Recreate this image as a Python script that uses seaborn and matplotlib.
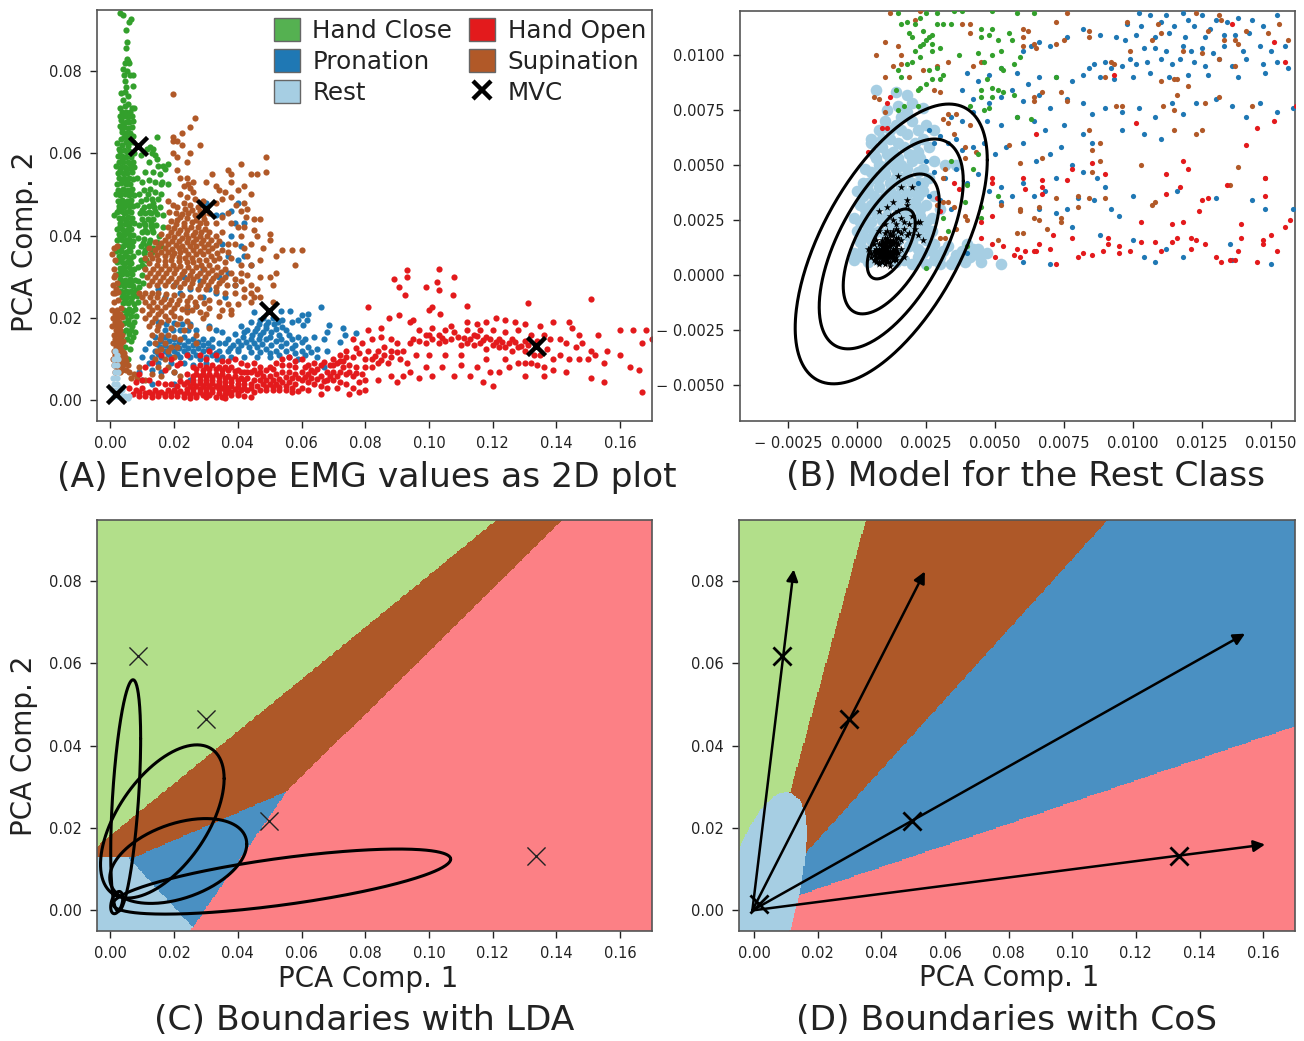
import numpy as np
import seaborn as sns
import matplotlib
matplotlib.use('Agg')
import matplotlib.pyplot as plt
from matplotlib.colors import ListedColormap
from matplotlib.lines import Line2D
from matplotlib.patches import Patch

W, H = 1304, 1041

# panel A points, (x, y) in thousandths
a_close = [(3,94),(4,93.5),(6.6,92.6),(5.8,91.8),(5,90),(5.3,87),(5,85.5),(5.2,83),(4.5,82),(5.6,82.5),(4.1,80.5),(5.2,80),(6,82),(4.3,79),(4.6,77.5),(6.3,79),(7.2,79),(5,76),(4.6,75),(3.4,74.7),(3.9,73),(7,76.3),(5.6,74),
(3,71),(4.5,71.5),(5.6,72),(6.8,71),(3.5,70),(5,70),(6.3,70),(7.5,71),(2.9,69),(4.2,69),(5.5,68.8),(6.8,69),(3.4,68),(4.8,67.7),(6,67.5),(7.2,67.9),(3.1,66.6),(4.4,66.4),(5.5,66.2),(6.8,66.3),(3.7,65.2),(5,65),(6.2,65),(4.2,64),(5.6,63.8),(7,64.2),(3.2,63.4),(4.8,62.8),(6.3,62.7),(3.7,62),(5.4,61.7),(2,62.5),
(3,60.5),(4.4,60.8),(6,60.5),(7.4,60),(2.3,59.3),(3.6,59.4),(5,59.2),(6.6,59),(2.6,58),(4.1,57.9),(5.6,57.8),(7,57.9),(1.8,56.8),(3.2,56.6),(4.6,56.7),(6.1,56.5),(7.3,56.7),(2.4,55.3),(3.9,55.2),(5.3,55.1),(6.7,55.4),(2.8,54),(4.4,53.9),(5.8,54),(7.1,53.8),(2,52.6),(3.4,52.7),(4.9,52.6),(6.3,52.5),(2.5,51.2),(4,51.3),(5.5,51),(6.9,51.4),(1.7,50),(3.1,49.9),(4.6,50),(6,49.8),(7.4,49.9),(2.3,48.5),(3.8,48.6),(5.2,48.4),(6.6,48.6),(2.8,47.2),(4.3,47),(5.8,47.1),(7.2,47.3),(2,45.8),(3.4,45.9),(4.9,45.7),(6.4,45.8),(1,45),(2.6,44.4),(4.1,44.3),(5.5,44.5),(6.9,44.2),(3,43),(4.5,42.9),(6,43),(7.4,43),(2.2,41.7),(3.7,41.6),(5.1,41.5),(6.6,41.7),(2.7,40.3),(4.2,40.2),(5.7,40.4),(7.2,40.2),(2,39),(3.5,38.9),(4.9,39),(6.3,38.8),(2.5,37.6),(4,37.5),(5.4,37.7),(6.9,37.5),(1.9,36.2),(3.3,36.3),(4.8,36.1),(6.2,36.2),(2.6,35),(4.1,34.8),(5.6,34.9),(7,35),(2.2,33.6),(3.6,33.5),(5.1,33.6),(6.6,33.4),(2.9,32.2),(4.4,32.1),(5.8,32.3),(7.4,32),(2.4,30.8),(3.8,30.8),(5.3,30.6),(6.8,30.8),(3.1,29.4),(4.6,29.3),(6.1,29.4),(7.6,29.2),(2.8,28),(4.2,27.9),(5.7,28),(7.2,27.8),(3.3,26.6),(4.9,26.5),(6.4,26.6),(8,26.8),(3.6,25.2),(5.2,25),(6.8,25.2),(8.4,25.4),(4,23.6),(5.6,23.7),(7.3,23.5),(8.8,24),(4.3,22),(6,22.2),(7.6,22.1),(4.7,20.5),(6.4,20.4),(8,20.6),(4.2,18.8),(6,18.6),(7.5,19),(5,17),(6.6,17.2),(3.4,15.5),(5.3,15),(7,15.3),(4.5,13),(6.1,12.5),(3.5,12),(5.5,10),(6.5,14.5),
(14.5,64),(12.4,61.5),(13.4,61),(11.5,61),(13.2,60),(14,59.5),(9.7,59.5),(14.5,58.5),(12,58),(15,57),(18,57.5),(16.5,57),(17.3,56.3),(11,55.5),(13.5,55.5),(15.5,55),(16.2,53),(15.8,52.5),(18,52.5),(14,53),(12,53.5),(10,53),(8.5,54),
(9,50),(10.7,51),(12.3,51.3),(14,50.7),(15.8,50),(9.6,48.5),(11.2,49),(13,49),(14.8,48.8),(8.4,47.5),(10.4,47),(12,47.2),(13.7,47),(15.5,47),(9.2,45.5),(11,45.5),(12.8,45.6),(14.5,45.2),(16.5,45),(10,44),(11.7,44),(13.5,44),(9,42.5),(10.8,42.5),(12.6,42.3),(14.3,42.5),(16.4,42),(9.8,41),(11.6,40.8),(13.4,40.8),(15.4,40),(8.8,39.5),(10.6,39.2),(12.5,39),(14.5,38.5),(9.6,37.5),(11.4,37.5),(13.4,37),(16,37.5),(8.7,36),(10.5,35.8),(12.4,35.5),(9.5,34),(11.2,34),(8.8,32.5),(10.5,32.3),(9.8,30.5),(8.6,29),(10.2,28.5),(9,27.5)]
a_close_more = [(3.7,58.4),(5.3,60.2),(2.9,55.9),(4.8,55.8),(6.2,57.3),(3.6,53.6),(5.2,53.2),(2.9,50.6),(4.9,50.8),(6.4,50.3),(3.2,48),(4.6,47.6),(6.2,47.9),(2.6,46.5),(4.2,45.4),(5.8,46),(3.4,44),(4.9,43.6),(6.5,43.3),(3,42.3),(4.4,41),(5.9,42),(3.1,39.8),(4.6,38.4),(5.9,39.3),(7,38.8),(3.3,37.1),(4.7,35.3),(5.9,36.5),(3,34.7),(4.4,33.2),(6.1,34.3),(3.3,31.5),(4.9,31.3),(6.4,31.7),(3.6,28.8),(5.2,28.6),(6.6,28.5),(3.9,25.9),(5.6,26.3),(7.2,26.1),(4.7,24.3),(6.4,24.1),(5.2,21.3),(6.9,21.6),(5.5,19.5),(6.9,18),(4.1,16.6),(5.9,16.1),(7.6,16.7),(11.8,50),(13.3,48),(10,46.2),(12.1,45.7),(14,46),(10.6,43),(12.9,43.2),(11,41.5),(13.2,41.7),(10.2,38.3),(12,38.2),(11,36.5),(13,36),(10,33),(3.5,66),(5.8,69.5),(4,67.2),(6.5,64),(2.6,61),(7.2,62.8)]

a_brown = [(19.5,74.5),(26.5,68.5),(25,66.5),(22.5,65),(28,62),(19.5,64),(19.8,63),(20.8,63),(22.5,62),(19.5,60),(21,59),(25,60),(24,58),(21,56),(49,59),(49,55.5),(41,57.5),(44,55),(46,55),(38,55),(37,56),(32,55),(22,54),(24,54),(26,53),
(23,52),(25,51.5),(30,53),(33,52),(38,53),(42,52),(34,51),(36,50.5),(40,51),(44,50),(22,50),(24,49.5),(26.5,49),(29,48.5),(23,48),(25,47.5),(27.5,47),(33,48),(35,49),(38,49.5),(39.5,47.5),(42,48),(18,48.5),(19.5,47.5),(21,47),(37,45.5),(41,46),(43,46.5),(18.5,45.8),(20.5,45.5),(22.5,45.3),(24.5,45.5),(26.5,45),(29,45),(31,45.5),(35,44.5),(42.5,44.5),(45,44),(47,44),(19,43.5),(21,43.8),(23,43.2),(25.5,43.3),(28,43),(30,43),(33,43),(38,43),(40,42),(42,42),(45,41.5),(50,40.5),(18,42),(20,41.8),(22,41.5),(24,41.5),(26.5,41),(28.5,41),(31,41),(35,41),(41,40),(46,40),(50,39),(54,36.5),(57,36.5),(52,35),(60,36.5),(58,33),
(16,40.5),(18,40),(20,39.8),(22.5,39.5),(24.5,39.5),(27,39.3),(29,39),(31.5,39),(34,38.8),(37,38),(39,38),(42,37),(44,38),(48,37),(14,38.5),(16,38.3),(18,38),(20.5,37.8),(22.5,37.5),(25,37.5),(27,37.5),(29.5,37.2),(32,37),(35,36.5),(37,36),(43,35),(47,34),(52,31),(12,37),(14,36.5),(16,36),(18,36),(20,35.8),(22,36),(24.5,35.5),(27,35.5),(29,35.5),(31.5,35),(34,34.5),(38,34.5),(41,33),(44,33),(50,30),(51,28),
(11,34.5),(13,34.5),(15,34),(17,33.8),(19,34),(21.5,33.8),(24,33.5),(26,33.5),(28.5,33),(31,33),(33.5,32.5),(36,32),(38,31),(41,31),(43,30.5),(47,30),(11,32),(13.5,32),(16,32),(18.5,32),(20.5,32),(23,31.5),(25.5,31.5),(28,31),(30.5,31),(33,30.5),(36,30),(39,29.5),(41,29),(44,28),(46,27),(11.5,30),(14,30),(16.5,30),(19,29.8),(21.5,29.8),(24,29.5),(26,29.5),(29,29),(31.5,29),(34,28.5),(36.5,28),(39,28),(42,27),(44,26),(45,25),(47,25),(12,28),(14.5,28),(17,28),(19.5,27.8),(22,27.5),(25,27.5),(27.5,27),(30,27),(33,26.5),(36,26),(39,26),(42,25),(44,24),(51,24),
(9,26),(11,26),(13,26),(15,26),(17.5,25.8),(20,25.5),(22.5,25.5),(25,25),(28,25),(31,24.5),(34,24),(37,23.5),(40,23.5),(11,24),(13.5,24),(16,23.8),(18.5,23.5),(21,23.3),(24,23),(27,23),(31,22.5),(35,22),(38,22),(10,22),(13,22),(16,21.7),(19,21.5),(24,21.5),(30,21),(34,20.5),(38,21),(11,20),(14,20),(18,19.5),(24,19.3),(29,20),(12,18),(15,18),(19,17.5),(25,18),(31,17.5),(13,16),(16,16),(20,15.5),(27,16),(14,14),(17,14),(21,13),(27,14),(14.5,12),(18,12),(14,10),(17,10),(20,10.5),(15,8),(18,8),(20,7),(22,6),(13,6.5),(16,6),(11,5),
(1,37),(2,37.5),(0.5,35.5),(1.5,34),(1.2,32),(1,30),(0.7,28),(1.5,26),(1,24),(2.5,24.5),(0.6,22),(2,22),(3.3,22.5),(0.8,20),(2.2,20),(3.5,20.3),(0.5,18),(2,18),(3.2,18.3),(1,16),(2.5,16.2),(3.8,16),(0.7,14),(2,14),(3.4,14),(1,12),(2.4,12),(3.8,12),(0.8,10),(2,10),(3.2,10),(4.5,10.5),(1.2,8.5),(2.7,8.5),(4,8.5),(5.5,8.5),(1.5,7),(3,7),(6,7),(7.5,6.5),(6.5,5.5),(8.5,5.5),(9,8)]
a_brown_more = [(24.3,52.6),(26,50.5),(23.3,46.5),(25.7,46.2),(28.2,46),(21.7,44.6),(24,44.3),(26.8,43.9),(29.5,44),(20.5,42.8),(23,42.3),(25.3,42),(27.5,42.2),(29.8,41.7),(19,40.8),(21.3,40.6),(23.6,40.5),(26,40.2),(28,40),(30.3,40),(33,40),(17,39),(19.3,38.8),(21.6,38.7),(24,38.5),(26,38.4),(28.4,38.2),(30.5,38),(33,37.8),(15,37.3),(17.3,37),(19.4,36.8),(21.5,36.9),(23.5,36.6),(26,36.5),(28.2,36.4),(30.5,36.2),(33.5,35.8),(12.5,35.5),(14.7,35.2),(17,35),(19.3,35),(21.5,34.8),(23.3,34.6),(25.5,34.5),(27.7,34.2),(30,34),(32.5,34),(36,33.5),(12,33.3),(14.5,33),(17,32.9),(19.5,33),(22,32.7),(24.5,32.5),(27,32.3),(29.5,32),(32,31.7),(34.7,31.3),(12.5,31),(15,31),(17.5,30.9),(20,30.9),(22.5,30.6),(25,30.5),(27.3,30.2),(29.8,30),(32.3,29.8),(35,29.2),(13,29),(15.5,29),(18,28.9),(20.5,28.7),(23,28.5),(25.5,28.4),(28,28),(30.5,28),(33,27.5),(10,25),(12.3,25),(14.5,25),(16.8,24.7),(19,24.5),(21.5,24.5),(24,24.2),(26.5,24),(29.5,23.7),(12,23),(14.7,22.8),(17.3,22.6),(20,22.5),(22.5,22.3),(25.5,22),(28,21.5),(12,21),(15,21),(17,20.5),(20,20.5),(22,20),(13,19),(16,19),(21,18.5),(23,17),(14.5,17),(18,16),(22,15),(15.5,15),(19,13),(16,12.5),(1.6,30.5),(2,28.5),(1.8,27),(0.9,26),(2.4,26.3),(3,21),(1.4,21),(1.4,19),(2.7,19),(1.7,17),(3.1,17),(1.5,15),(2.8,15),(1.7,13),(3,13),(4,14.5),(1.5,11),(3,11),(4.3,11.5),(2,9.2),(3.5,9.3),(5,9.5),(2.2,7.8),(3.8,7.5),(5,7.5)]

a_pron = [(66,22.8),(62,21),(60,20.8),(56.5,21.6),(53.6,21.6),(59,19.6),(61.7,19.6),(60.5,18.3),(57,19),(68.5,18.3),(73,17.5),(68,16.7),(77,16.3),(73.5,16),(64,15.5),(67,15),(72,14.3),(45,21.5),(48,20),(51,20),(54,19.5),(44,19),(46.5,18.5),(49,18.3),(51.5,18.5),(54,17.8),(41,18),(43,17),(45.5,16.8),(48,16.5),(50.5,16.7),(53,16),(56,16),(59,15.5),(61,15),(39,16.2),(41.5,15.5),(44,15),(46.5,15),(49,14.8),(52,14.5),(55,14),(58,13.5),(62,13),(65,12.5),(68,12),(36,14),(38.5,13.5),(41,13.5),(43.5,13),(46,13),(49,12.5),(52,12),(55,12),(58,11.5),(61,11),(65,10.5),(67,8),
(15,19),(17.5,18.5),(20,18.8),(22.5,18.5),(25,18.5),(17,17),(19.5,17),(22,17),(24.5,17),(27,17),(31,18),(33,17),(35,16.5),(37,15),(14,15.5),(17,15.5),(20,15),(23,15.3),(26,15),(29,15),(32,15),(34,14),(12,14),(14.5,13.7),(17,13.5),(20,13.5),(23,13.5),(26,13.5),(29,13.5),(32,13),(34,12),(37,12),(40,12),(11,12.5),(14,12),(17,12),(20,12),(23,12),(26,12),(29,12),(32,11),(35,10.5),(38,10.5),(42,10.5),(46,10.5),(50,10.5),(10,10.5),(13,10.5),(16,10.5),(19,10.5),(22,10.5),(25,10.5),(28,10),(12,9),(15,9),(19,9),(23,9),(26,8.5),(30,9),(13,7.5),(16,7),(20,7),(9,7),(10,5),(13,4),(20,4),(25,5),
(24,22),(27,23),(29,25),(31,27),(28,29),(33,26),(36,25),(34,30),(37,31),(39,28),(37,35),(40,34),(35,38),(38,40),(39,43),(41,37.5),(42,35),(35,45),(33,45),(44,33),(30,48),(23,30),(25,27),(20,28),(17,25),(22,26),(15,27),(29,32),(38,46),(40,48),(42,43)]
a_pron_more = [(47,19.5),(49.5,19),(52.5,19),(46,17.5),(49,17.5),(52,17.3),(55,17),(42,16.5),(44.5,16),(47,15.8),(50,15.5),(53.5,15),(57,14.8),(60,14.2),(40,14.5),(42.5,14.2),(45,14),(47.5,13.8),(50.5,13.5),(53.5,13.2),(57,12.7),(60,12),(63,11.8),(37.5,12.8),(40,12.6),(44,11.8),(47,11.7),(50,11.5),(53,11),(56,10.5),(59,10),(16,14.5),(18.5,14.4),(21.5,14.2),(24.5,14.4),(27.5,14.2),(30.5,14),(15.5,12.9),(18.5,12.7),(21.5,12.8),(24.5,12.8),(27.5,12.7),(30.5,12.5),(33,11.5),(15,11.2),(18,11.2),(21,11.3),(24,11.3),(27,11),(30,10.5),(33.5,10)]

a_open = [(89,29.4),(93,31.7),(93,30),(90.7,27.6),(92.6,25.6),(99,27.6),(102.6,28.7),(103,32),(103,26.7),(108,30),(107.5,25.5),(112,23),(131,23.6),(151,24.7),(81,22.6),(101,22.8),(100,22),(103.5,21),(90.7,20.8),(87.6,20),(95,19.6),(94,19),(81,17),(85,17.5),(112,19),(115,18.5),(118,19),(121,20),(124,19.5),(127,19),(130,18.5),(135,18),(139,19),(145,17.5),(144,19),(153,16),(147,16),(160,17),(167,14),(164,17),(168,17),(170,15),
(97,17),(99,16),(101,17.5),(103,16),(105,17),(107,18),(109,15.5),(112,17),(114,16),(116,17),(118,15.5),(120,17),(122,15),(124,16.5),(126,15),(128,17),(130,14.5),(132,16),(134,14.5),(136,16),(138,15),(141,15),(143,14),(146,13),(148,14),(151,12),(156,12),(160,11),
(95,15),(97,14.5),(99,14),(101,15),(103,14),(105,14.5),(107,15),(110,13.5),(112,14),(114,13.5),(116,14),(118,12.5),(120,13.5),(122,13),(124,13),(126,12),(128,13),(130,12),(133,11),(135,11),(137,12.5),(139,10),(141,11),(144,10),(147,10),(150,10),(152,11),(155,9),(163,8),(166,7.5),(167,2),(139,7.5),(136,8),(132,9),(128,9),(125,8),(122,7),(119,7),(115,8),(113,6),(110,8.5),(108,6),(104,8),(101,6),(99,8),(97,5.5),(94,7),(92,6),(90,4.5),(88,6),(96,11),(100,11),(105,11),(110,11),(118,10),(124,10),(130,9),(143,7),(151,5.5),(155,4.5),(134,8.5),(130,6),(136,6),(117,4.5),(120,3.5),
(82,10),(84,12),(86,13),(88,15),(90,14),(92,12),(94,14),(79,14),(76,15),(82,15),(85,15.5),(88,12),(91,10),(93,9),(87,9),(84,9),(80,8),
(70,10),(72,11),(74,12),(76,10.5),(78,11.5),(80,10),(82,8),(69,8.5),(71,9),(73,9.5),(75,8.5),(77,8),(79,6.5),(62,8.5),(64,9),(66,8.5),(68,7),(70,7),(72,7),(74,6.5),(76,6),(78,4.5),(80,5),(60,7),(62,6.5),(64,7),(66,6),(68,5),(70,5),(72,4.5),(74,4),(76,3),(78,2),(62,4.5),(64,4),(66,3.5),(68,3),(71,3),(75,1.5),(84,5),(80,2.5),
(50,8),(52,9),(54,10),(56,10.5),(58,9.5),(60,10),(48,6),(50,6),(52,6.5),(54,7),(56,7),(58,6.5),(60,5),(48,4),(50,4),(52,4),(54,4.5),(56,4.5),(58,4),(60,3),(62,2.5),(47,2.5),(49,2.5),(51,2.5),(53,2.5),(55,2.5),(57,2),(66,1.5),
(28,11),(30,10),(31,12),(33,11),(35,9.5),(37,9.5),(39,10),(41,9),(43,8.5),(45,9),(47,8),(28,8.5),(30,8),(32,8.5),(34,8),(36,8),(38,8),(40,7.5),(42,7),(44,7),(46,6.5),(27,6.5),(29,6.5),(31,6.5),(33,6.5),(35,6.5),(37,6),(39,6),(41,5.5),(43,5.5),(45,5),(26,5),(28,5),(30,5),(32,5),(34,4.8),(36,4.5),(38,4.5),(40,4),(42,4),(44,4),(46,3.5),(25,3.5),(27,3.5),(29,3.5),(31,3.5),(33,3.5),(35,3),(37,3),(39,2.8),(41,2.5),(43,2.5),(45,2),(24,2),(26,2),(28,2),(30,2),(32,2),(34,1.8),(36,1.5),(38,1.3),(40,1.2),(42,1),(44,0.8),(33,0.8),(30,0.8),(36,0.5),
(6,3),(8,2.5),(10,3),(12,2),(14,2.5),(16,2),(18,2.5),(20,2.5),(22,2.2),(7,1.5),(9,1),(11,1),(13,0.8),(15,1),(17,1),(19,1),(21,1),(23,0.8),(25,0.7),(27,0.8),(8,4.5),(10,5),(12,5),(15,4.2),(17,4),(19,4),(21,3.5),(23,4),(9,6.5),(11,8),(13,9),(17,7.5),(21,8.5),(24,6.5),(22,9),(19,10),(24,11),(16,11)]
a_open_more = [(100,15.8),(104,15.2),(108,16.5),(111,15.2),(113,15),(115,15.6),(117,14.7),(119,14.8),(121,14.2),(123,14.3),(125,14),(127,14.3),(129,13.3),(131,13.4),(86,11),(88,10.5),(90,11.8),(83,10.7),(85,9.8),(81,12),(77,12.7),(74,10.5),(72,9.5),(70,8.7),(67,9.4),(65,7.7),(63,7.5),(61,8),(58,8),(56,8.7),(54,8.5),(73,8),(75,7),(77,6.7),(71,6),(69,6),(67,4.6),(65,5.3),(63,5.5),(61,5.7),(59,5.5),(57,5.5),(55,5.7),(53,5.3),(51,5),(49,5),(47,5),(47,7),(49,7.3),(51,7.7),(45,7.5),(43,7),(41,7),(39,7.2),(37,7.3),(35,7.5),(33,7.7),(31,7.6),(29,7.4),(27,7.6),(26,8),(42,5),(40,5),(38,5.3),(36,5.5),(34,5.6),(32,5.8),(30,5.8),(28,5.9),(26,6),(44,3),(42,3.1),(40,3.2),(38,3.4),(36,3.6),(34,4),(32,4.2),(30,4.3),(28,4.2),(26,4.3),(24,4.5),(22,4.7),(24,2.8),(26,2.8),(28,2.8),(30,2.8),(32,2.8),(34,2.7),(36,2.5),(38,2.1),(40,1.9),(35,0.9),(37,2),(31,1.4),(29,1.3),(27,1.4),(25,1.4),(23,1.5),(21,1.7),(19,1.7),(17,1.6),(15,1.7),(13,1.5),(11,1.8),(9,2),(49,3.3),(51,3.3),(53,3.3),(55,3.5),(57,3),(59,2.2)]

a_rest = [(1.5,12),(2,11),(1,10),(2.5,10),(1,8.5),(2,8.5),(1.5,7),(2.5,7),(0.8,5.5),(2,5.5),(1,4),(2.2,4),(3,3),(0.6,2.5),(1.8,2.5),(3,1.5),(4.5,1),(5.5,0.5),(1,1),(2.2,1),(3.8,2.5),(6,1)]

mvc_x = [0.0017, 0.0088, 0.0300, 0.0498, 0.1335]
mvc_y = [0.0015, 0.0617, 0.0465, 0.0218, 0.0133]

# panel B points, (x, y) in 1e-4
b_pron = [(102,119),(106,118),(112,118),(118,119),(125,118),(130,116),(120,116),(110,115),(103,113),(98,114),(115,113),(122,113),(128,112),(134,115),(138,117),(143,116),(147,113),(152,118),(142,110),(137,109),(133,109),(126,108),(119,108),(113,110),(108,108),(101,109),(97,107),(94,108),(88,109),(82,112),(76,108),(70,104),(66,106),(63,104),(60,102),
(104,103),(108,103),(112,102),(118,104),(121,102),(125,103),(129,101),(133,104),(140,102),(146,104),(150,102),(155,104),(99,98),(101,96),(96,95),(92,94),(90,97),(86,96),(84,94),(105,97),(110,98),(114,96),(117,98),(122,97),(126,95),(131,98),(136,95),(141,98),(147,96),(152,97),(156,94),(148,92),(138,90),(127,91),(120,91),(113,90),(106,92),(100,90),(93,89),(88,90),(82,91),(78,88),(72,90),(66,90),(62,87),(58,92),(52,94),(48,91),(44,88),(40,92),
(38,84),(42,80),(48,78),(52,81),(56,84),(60,79),(66,82),(70,76),(76,80),(82,78),(85,73),(90,76),(96,74),(102,76),(108,72),(114,78),(118,73),(123,78),(130,80),(136,77),(141,72),(146,78),(152,74),(158,76),(34,72),(38,70),(42,74),(47,70),(52,68),(58,72),(64,70),(68,66),(75,68),(82,64),(85,60),(96,66),(104,64),(110,62),
(26,66),(30,63),(33,60),(28,60),(36,62),(38,57),(42,58),(46,60),(50,55),(54,58),(60,60),(65,52),(70,55),(74,58),(78,50),(82,47),(87,44),(90,40),
(25,52),(28,47),(32,44),(36,48),(40,42),(44,46),(48,38),(52,40),(56,36),(60,42),(64,36),(68,38),(72,44),(80,35),(86,34),(92,30),(95,27),(100,36),(116,38),(130,35),(143,34),(148,30),(158,30),
(22,42),(26,36),(30,34),(34,30),(52,33),(66,30),(72,28),(76,30),(78,22),(88,18),(100,16),(112,12),(118,8),(135,14),(136,7),(150,5),(60,6),(40,10),(70,5),(108,6),(104,8)]

b_open = [(136,114),(151,106),(155,97),(93,91),(101,69),(159,77),(145,67),(151,70),(141,59),(65,64),(118,52),(120,48),(112,46),(90,46),(85,51),(78,48),(76,43),(67,43),(67,40),(67,37),(60,44),(61,39),(49,44),(49,42),(117,40),(112,37),(125,34),(127,35),(124,29),(134,41),(148,44),(148,36),(157,25),(155,22),(103,24),(114,23),(118,24),(139,23),(139,17),(150,18),(147,16),(147,14),(152,11),(116,17),(121,17),(123,16),(126,14),(121,12),(114,15),(108,15),(103,15),(95,13),(91,17),(91,14),(89,11),(99,11),(95,10),(110,11),(130,8),(132,6),(135,7),(137,7),(145,6),(138,11),(85,9),(82,10),(80,8),(72,5),(71,18),(78,17),(70,12),(65,11),(64,11),(66,14),(61,11),(58,12),(57,9),(59,8),(53,13),(50,8),(49,27),(45,24),(49,14),(45,17),(4,56),(6,70),(9,67),(11,67),(12,81),(11,78),(37,39),(35,42),(29,35),(30,29)]

b_brown = [(12,119),(23,120),(76,119),(98,115),(109,114),(123,119),(131,118),(132,116),(153,114),(149,110),(141,111),(127,111),(110,110),(84,111),(72,115),(60,112),(62,111),(41,114),(38,114),(41,110),(84,108),(75,107),(72,105),(60,108),(64,105),(65,103),(60,104),(99,102),(107,107),(118,102),(125,101),(131,98),(133,107),(137,107),(138,105),(137,95),(156,107),(92,97),(93,96),(33,97),(42,95),(45,97),(90,90),(115,89),(116,89),(110,88),(120,86),(116,82),(126,78),(131,81),(143,77),(111,77),(115,75),(96,77),(94,77),(76,79),(74,83),(64,81),(64,79),(67,83),(115,66),(123,64),(125,66),(84,66),(88,60),(85,57),(88,52),(103,50),(138,49),(85,47),(59,51),(67,53),(55,59),(148,44),(135,41),(108,33),(107,32),(90,35),(84,35),(80,36),(80,31),(72,35),(74,26),(74,24),(66,31),(59,29),(59,30),(52,32),(58,19),(60,19),(66,25),(69,21),(64,26),(51,16),(10,106),(7,100),(15,104),(16,100),(16,96),(13,95),(21,116),(24,93),(29,95),(19,90),(10,90),(6,81),(8,80),(28,84),(30,83),(10,74),(33,73),(36,73),(33,69),(41,68),(35,64),(31,71),(39,58),(43,56),(39,53),(32,48),(31,44),(33,33),(35,31),(39,27),(40,25),(36,21),(30,17),(32,17),(31,33),(29,32)]

b_close = [(15,119),(23,117),(25,119),(29,119),(35,120),(38,120),(49,120),(58,119),(64,119),(18,115),(21,114),(31,114),(34,114),(29,114),(16,114),(19,110),(24,111),(25,107),(27,105),(24,105),(26,108),(27,109),(20,108),(23,104),(21,102),(27,102),(30,103),(37,100),(23,99),(20,97),(18,96),(29,94),(26,93),(30,89),(31,91),(27,89),(25,87),(23,85),(22,84),(15,93),(16,90),(14,84),(45,108),(48,109),(49,112),(45,112),(51,107),(56,107),(55,110),(44,101),(49,100),(52,102),(46,97),(52,94),(53,93),(47,89),(49,85),(45,84),(45,81),(49,81),(51,84),(53,83),(57,82),(58,72),(63,71),(46,75),(48,76),(41,77),(59,99),(57,96),(72,90),(17,77),(22,77),(15,75),(34,52),(42,48),(44,55),(40,41),(39,33),(45,31),(45,26),(33,20),(31,26),(51,36),(25,3),(40,13)]

b_rest = [(-1,10),(2,8),(5,10),(8,7),(2,12),(6,13),(11,9),(14,6),(16,10),(19,13),(22,8),(25,5),(27,11),(30,8),(33,13),(36,9),(39,6),(42,12),(44,9),(47,10),(45,6),(52,5),(34,5),(40,14),(12,12),(-1,7),(4,6),(9,11),(13,7),(17,7),(20,5),(24,10),(28,7),(31,11),(35,7),(38,11),(41,8),(44,12),(30,5),(22,12),(27,14),
(7,84),(18,82),(14,83),(20,78),(16,72),(24,76),(10,70),(14,68),(20,70),(25,68),(28,66),(8,66),(5,62),(12,62),(18,64),(24,62),(5,60),(6,55),(9,58),(13,56),(17,58),(22,56),(26,58),(3,48),(8,50),(12,52),(16,50),(20,52),(24,48),(28,52),(32,50),(36,50),(2,42),(6,44),(10,46),(14,44),(18,44),(22,42),(26,44),(0,38),(4,38),(8,40),(12,38),(16,40),(20,38),(24,38),(28,36),(1,32),(5,32),(9,34),(13,33),(17,35),(21,33),(25,32),(-1,26),(3,27),(7,28),(11,27),(15,28),(19,28),(23,27),(27,26),(30,30),(0,20),(4,22),(8,20),(12,22),(16,22),(20,20),(24,22),(27,20),(1,15),(5,16),(10,15),(15,16),(20,15),(25,16),(28,14),(11,75),
(15,77),(18,74),(12,66),(16,66),(22,66),(9,62),(15,60),(21,60),(7,53),(11,55),(15,53),(19,55),(23,53),(5,47),(10,49),(14,48),(18,48),(22,47),(4,42),(8,44),(12,42),(16,44),(20,42),(24,42),(2,36),(6,36),(10,36),(14,36),(18,37),(22,36),(3,30),(7,31),(11,31),(15,31),(19,31),(23,30),(1,24),(5,24),(9,25),(13,24),(17,25),(21,24),(25,24),(2,18),(6,19),(10,18),(14,19),(18,18),(22,18),(26,18)]

b_star = [(15,45),(20,40),(16,40),(13,33),(18,34),(11,31),(8,29),(18,32),(12,27),(16,26),(20,27),(22,24),(23,24),(10,23),(14,23),(19,23),(21,21),(22,18),(24,16),(8,20),(11,20),(15,20),(18,18),(16,16),(7,16),(4,12),
(6,14),(7,12),(8,14),(9,16),(10,17),(11,15),(12,16),(13,18),(14,17),(9,13),(10,14),(11,12),(12,13),(13,14),(14,13),(15,14),(16,12),(5,10),(6,9),(7,10),(8,9),(9,10),(10,10),(11,9),(12,10),(13,10),(14,10),(15,10),(6,7),(7,7),(8,6),(9,7),(10,7),(11,7),(12,6),(13,7),(14,7),(8,5),(10,5),(12,4),(9,12),(11,11),(13,12),(10,19),(12,18),(17,8),
(7,11),(8,11),(9,11),(10,11),(10,12),(11,13),(12,14),(12,15),(13,15),(13,16),(11,16),(10,15),(9,14),(8,12),(8,10),(9,9),(10,9),(11,10),(12,11),(13,11),(14,12),(14,15),(14,11),(7,8),(8,8),(9,8),(10,8),(11,8),(12,8),(13,8),(14,8),(12,9),(13,9),(6,11),(5,8),(7,6),(9,6),(11,6),(10,13),(9,15),(11,17),(12,19),(13,20),(14,21),(15,17),(16,19),(17,21),(17,24),(13,25),(15,29),(19,19)]

# gaussian outlines: mean x, mean y, sd x, sd y, correlation
rest_model = [0.00124, 0.00141, 0.00087, 0.00159, 0.60]
rest_rings = [1, 2, 3, 4]
lda_ellipses = [
    [0.0048, 0.0279, 0.0047, 0.0281, 0.49],
    [0.0163, 0.0216, 0.0194, 0.0186, 0.56],
    [0.0213, 0.0120, 0.0215, 0.0103, 0.40],
    [0.0538, 0.0070, 0.0530, 0.0079, 0.69],
    [0.0020, 0.0019, 0.0019, 0.0027, 0.40],
]

# arrow tips in panel D
arrow_x = [0.0125, 0.0537, 0.1543, 0.1606]
arrow_y = [0.0828, 0.0823, 0.0672, 0.0160]

# boundary of the rest region in panel D
rest_y = [-0.0051, -0.0005, 0.0027, 0.0068, 0.0124, 0.0189, 0.0238, 0.0269, 0.0289]
rest_right = [0.0113, 0.0129, 0.0138, 0.0151, 0.0160, 0.0167, 0.0160, 0.0145, 0.0107]
rest_left_y = [-0.0060, 0.0155, 0.0204, 0.0252, 0.0282, 0.0289]
rest_left = [-0.0100, -0.0044, -0.0013, 0.0028, 0.0072, 0.0107]

xticks_a = [0, 0.02, 0.04, 0.06, 0.08, 0.10, 0.12, 0.14, 0.16]
yticks_a = [0, 0.02, 0.04, 0.06, 0.08]
xticks_b = [-0.0025, 0, 0.0025, 0.005, 0.0075, 0.01, 0.0125, 0.015]
yticks_b = [-0.005, -0.0025, 0, 0.0025, 0.005, 0.0075, 0.01]

# point colours
c_close, c_pron, c_rest, c_open, c_brown = '#33a02c', '#1f78b4', '#a6cee3', '#e31a1c', '#b15928'
# region colours
region_colors = ['#b2df8a', '#ae5828', '#4a90c2', '#a6cee3', '#fc8085']
region_cmap = ListedColormap(region_colors)

sns.set_theme(style='ticks')
plt.rcParams['font.family'] = ['DejaVu Sans']
plt.rcParams['axes.edgecolor'] = '#555555'
plt.rcParams['xtick.color'] = '#222222'
plt.rcParams['ytick.color'] = '#222222'

fig = plt.figure(figsize=(W / 100, H / 100), dpi=100)


def make_axes(left, top, right, bottom):
    ax = fig.add_axes([left / W, 1 - bottom / H, (right - left) / W, (bottom - top) / H])
    ax.tick_params(labelsize=10.5, length=5, width=1, pad=6)
    for s in ax.spines.values():
        s.set_linewidth(1.2)
    return ax


def dots(ax, pts, color, unit, size=14, marker='o', z=2):
    arr = np.array(pts, dtype=float) * unit
    sns.scatterplot(x=arr[:, 0], y=arr[:, 1], color=color, s=size, marker=marker,
                    linewidth=0, ax=ax, legend=False, zorder=z)


def crosses(ax, xs, ys, size, lw, color='black'):
    sns.scatterplot(x=xs, y=ys, color=color, marker='x', s=size, linewidth=lw,
                    ax=ax, legend=False, zorder=6)


def outline(ax, model, scale=1.0):
    mx, my, sx, sy, r = model
    t = np.linspace(0, 2 * np.pi, 300)
    ex = mx + scale * sx * np.cos(t)
    ey = my + scale * sy * (r * np.cos(t) + np.sqrt(1 - r * r) * np.sin(t))
    ax.plot(ex, ey, color='black', lw=2.2, zorder=5)


def fmt(vals, digits):
    return [('\u2212 ' if v < 0 else '') + f'{abs(v):.{digits}f}' for v in vals]


def set_ticks(ax, xt, yt, dx, dy):
    ax.set_xticks(xt)
    ax.set_xticklabels(fmt(xt, dx))
    ax.set_yticks(yt)
    ax.set_yticklabels(fmt(yt, dy))


def caption(x, y, s, size=24.8):
    fig.text(x / W, 1 - y / H, s, ha='center', va='center', fontsize=size, color='#222222')


def regions(ax, xlim, ylim, classify):
    xs = np.linspace(xlim[0], xlim[1], 480)
    ys = np.linspace(ylim[0], ylim[1], 360)
    gx, gy = np.meshgrid(xs, ys)
    ax.pcolormesh(gx, gy, classify(gx, gy), cmap=region_cmap, vmin=0, vmax=4, shading='nearest', zorder=0)


def lda_classes(x, y):
    red = y < np.minimum(0.0949 + 0.764 * (x - 0.1418), -0.0041 + 1.119 * (x - 0.0259))
    green = y > 0.0182 + 0.632 * x
    brown = y > np.maximum(0.0124 + 0.335 * (x - 0.0061), 0.0128)
    rest = y < 0.0124 - 0.833 * (x - 0.0061)
    return np.select([red, green, brown, rest], [4, 0, 1, 3], default=2)


def cos_classes(x, y):
    green = y > 2.77 * x - 0.0027
    brown = y > 0.852 * x + 0.0001
    blue = y > 0.263 * x
    rest = (x < np.interp(y, rest_y, rest_right)) & (x > np.interp(y, rest_left_y, rest_left)) & (y <= 0.0289)
    return np.select([rest, green, brown, blue], [3, 0, 1, 2], default=4)


xlim_a = (-0.0042, 0.1700)
ylim_a = (-0.0050, 0.0948)
xlim_d = (-0.0047, 0.1700)

# (A) raw envelope points
ax_a = make_axes(97, 10, 652, 421)
dots(ax_a, a_pron + a_pron_more, c_pron, 1e-3, size=20)
dots(ax_a, a_close + a_close_more, c_close, 1e-3, size=20)
dots(ax_a, a_brown + a_brown_more, c_brown, 1e-3, size=20)
dots(ax_a, a_open + a_open_more, c_open, 1e-3, size=20)
dots(ax_a, a_rest, c_rest, 1e-3, size=20)
crosses(ax_a, mvc_x, mvc_y, 170, 3.2)
ax_a.set_xlim(xlim_a)
ax_a.set_ylim(ylim_a)
set_ticks(ax_a, xticks_a, yticks_a, 2, 2)
handles = [Patch(fc='#55b151', ec='#666666', label='Hand Close'),
           Patch(fc=c_pron, ec='#666666', label='Pronation'),
           Patch(fc=c_rest, ec='#666666', label='Rest'),
           Patch(fc=c_open, ec='#666666', label='Hand Open'),
           Patch(fc=c_brown, ec='#666666', label='Supination'),
           Line2D([], [], color='black', marker='x', ls='', ms=13, mew=3.2, label='MVC')]
ax_a.legend(handles=handles, ncol=2, frameon=False, fontsize=17.7, loc='upper right',
            bbox_to_anchor=(1.02, 1.022), handlelength=1.05, handleheight=1.05,
            handletextpad=0.5, columnspacing=0.7, labelspacing=0.25, borderpad=0.2, labelcolor='#222222')

# (B) zoom on the rest class
ax_b = make_axes(740, 11, 1295, 421)
dots(ax_b, b_rest, c_rest, 1e-4, size=70, z=2)
dots(ax_b, b_pron, c_pron, 1e-4, size=14, z=3)
dots(ax_b, b_brown, c_brown, 1e-4, size=14, z=3)
dots(ax_b, b_close, c_close, 1e-4, size=14, z=3)
dots(ax_b, b_open, c_open, 1e-4, size=14, z=3)
dots(ax_b, b_star, 'black', 1e-4, size=32, marker='*', z=4)
for ring in rest_rings:
    outline(ax_b, rest_model, ring)
ax_b.set_xlim(-0.00424, 0.01587)
ax_b.set_ylim(-0.00664, 0.0120)
set_ticks(ax_b, xticks_b, yticks_b, 4, 4)

# (C) LDA boundaries
ax_c = make_axes(97, 520, 652, 931)
regions(ax_c, xlim_a, ylim_a, lda_classes)
for model in lda_ellipses:
    outline(ax_c, model)
crosses(ax_c, mvc_x[1:], mvc_y[1:], 170, 1.0, '#222222')
ax_c.set_xlim(xlim_a)
ax_c.set_ylim(ylim_a)
set_ticks(ax_c, xticks_a, yticks_a, 2, 2)

# (D) cosine boundaries
ax_d = make_axes(739, 520, 1295, 931)
regions(ax_d, xlim_d, ylim_a, cos_classes)
for tx, ty in zip(arrow_x, arrow_y):
    ax_d.annotate('', xy=(tx, ty), xytext=(-0.0005, 0.0), zorder=5,
                  arrowprops=dict(arrowstyle='-|>', color='black', lw=1.8, mutation_scale=17, shrinkA=0, shrinkB=0))
crosses(ax_d, mvc_x, mvc_y, 170, 2.0)
ax_d.set_xlim(xlim_d)
ax_d.set_ylim(ylim_a)
set_ticks(ax_d, xticks_a, yticks_a, 2, 2)

caption(367, 477, '(A) Envelope EMG values as 2D plot')
caption(1025, 477, '(B) Model for the Rest Class')
caption(364, 1021, '(C) Boundaries with LDA')
caption(1007, 1021, '(D) Boundaries with CoS')
caption(368, 979, 'PCA Comp. 1', 20)
caption(1009, 978, 'PCA Comp. 1', 20)
fig.text(25 / W, 1 - 242 / H, 'PCA Comp. 2', rotation=90, ha='center', va='center', fontsize=20, color='#222222')
fig.text(24 / W, 1 - 746 / H, 'PCA Comp. 2', rotation=90, ha='center', va='center', fontsize=20, color='#222222')

fig.savefig('out.png', dpi=100)
